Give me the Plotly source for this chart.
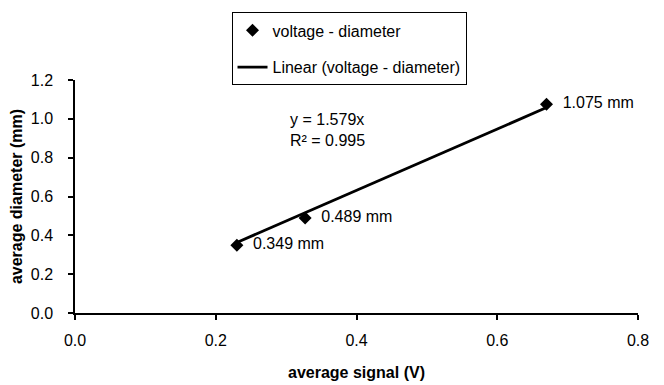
import plotly.graph_objects as go

# Data
signal_v = [0.230, 0.327, 0.670]
diameter_mm = [0.349, 0.489, 1.075]
point_labels = ["0.349 mm", "0.489 mm", "1.075 mm"]
trend_slope = 1.579
r_squared = 0.995
x_ticks = [0.0, 0.2, 0.4, 0.6, 0.8]
y_ticks = [0.0, 0.2, 0.4, 0.6, 0.8, 1.0, 1.2]

FONT = "Liberation Sans, Arial, sans-serif"

trend_x = [min(signal_v), max(signal_v)]
trend_y = [trend_slope * v for v in trend_x]

fig = go.Figure()
fig.add_trace(go.Scatter(
    x=signal_v, y=diameter_mm, mode="markers+text",
    name="voltage - diameter", legendgroup="a",
    marker=dict(symbol="diamond", size=10, color="black"),
    text=["\u00a0\u00a0" + t for t in point_labels], textposition="middle right",
    textfont=dict(family=FONT, size=16, color="black"),
    cliponaxis=False,
))
fig.add_trace(go.Scatter(
    x=trend_x, y=trend_y, mode="lines",
    name="Linear (voltage - diameter)", legendgroup="b",
    line=dict(color="black", width=2.8),
))

fig.add_annotation(
    x=0.303, y=0.94, xref="x", yref="y",
    text=f"y = {trend_slope:.3f}x<br>R² = {r_squared:.3f}",
    showarrow=False, xanchor="left", yanchor="middle", align="left",
    font=dict(family=FONT, size=16, color="black"),
)

axis_common = dict(
    showline=True, linecolor="black", linewidth=1.5,
    ticks="outside", ticklen=5, tickcolor="black", tickwidth=1.5,
    showgrid=False, zeroline=False, automargin=False,
    tickfont=dict(family=FONT, size=16, color="black"),
    tickformat=".1f",
)

fig.update_layout(
    width=664, height=385,
    margin=dict(l=75, r=26, t=77, b=72),
    paper_bgcolor="white", plot_bgcolor="white",
    font=dict(family=FONT, color="black"),
    showlegend=True,
    legend=dict(
        x=0.278, y=1.29, xanchor="left", yanchor="top",
        bordercolor="black", borderwidth=1, bgcolor="white",
        font=dict(family=FONT, size=16, color="black"),
        traceorder="grouped", tracegroupgap=13,
    ),
    xaxis=dict(axis_common, range=[0, 0.8], tickvals=x_ticks,
               ticklabelstandoff=7,
               title=dict(text="<b>average signal (V)</b>", standoff=19,
                          font=dict(family=FONT, size=16, color="black"))),
    yaxis=dict(axis_common, range=[0, 1.2], tickvals=y_ticks,
               ticklabelstandoff=12,
               title=dict(text="<b>average diameter (mm)</b>", standoff=4,
                          font=dict(family=FONT, size=16, color="black"))),
)

fig.write_html("out.html")
